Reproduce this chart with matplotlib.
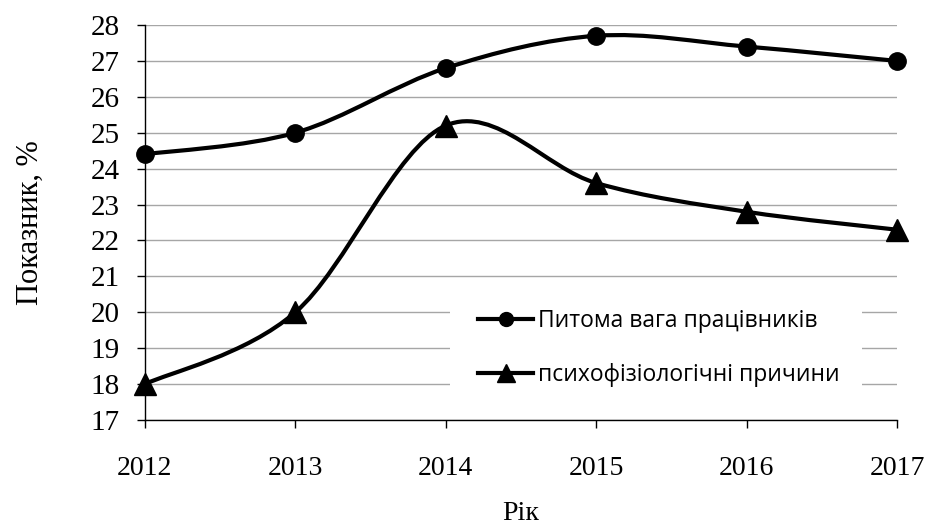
import matplotlib.pyplot as plt
from matplotlib.path import Path
from matplotlib.patches import PathPatch, Rectangle

years = [2012, 2013, 2014, 2015, 2016, 2017]
share_workers = [24.4, 25.0, 26.8, 27.7, 27.4, 27.0]
psycho_reasons = [18.0, 20.0, 25.2, 23.6, 22.8, 22.3]
label_workers = "Питома вага працівників"
label_psycho = "психофізіологічні причини"


def smooth_path(xs, ys):
    # Excel-style smoothed line: cubic bezier through the points
    pts = list(zip(xs, ys))
    verts = [pts[0]]
    codes = [Path.MOVETO]
    n = len(pts)
    for i in range(n - 1):
        p0 = pts[max(i - 1, 0)]
        p1 = pts[i]
        p2 = pts[i + 1]
        p3 = pts[min(i + 2, n - 1)]
        c1 = (p1[0] + (p2[0] - p0[0]) / 6, p1[1] + (p2[1] - p0[1]) / 6)
        c2 = (p2[0] - (p3[0] - p1[0]) / 6, p2[1] - (p3[1] - p1[1]) / 6)
        verts += [c1, c2, p2]
        codes += [Path.CURVE4] * 3
    return Path(verts, codes)


fig = plt.figure(figsize=(9.29, 5.29), dpi=100)
ax = fig.add_axes([0.156, 0.206, 0.8095, 0.7467])

for ys, mk, ms, lab in [(share_workers, 'o', 12.5, label_workers),
                        (psycho_reasons, '^', 16, label_psycho)]:
    ax.add_patch(PathPatch(smooth_path(years, ys), facecolor='none',
                           edgecolor='black', lw=3, zorder=3, clip_on=False))
    ax.plot(years, ys, linestyle='none', marker=mk, markersize=ms,
            color='black', zorder=4, clip_on=False)
    ax.plot([], [], color='black', lw=3, marker=mk, markersize=ms * 0.8, label=lab)

ax.set_xlim(2012, 2017)
ax.set_ylim(17, 28)
ax.set_xticks(years)
ax.set_yticks(range(17, 29))
ax.grid(axis='y', color='#a6a6a6', lw=1)
ax.set_axisbelow(True)
for s in ['top', 'right']:
    ax.spines[s].set_visible(False)
ax.spines['left'].set_linewidth(1)
ax.spines['bottom'].set_linewidth(1)
ax.tick_params(axis='both', direction='out', length=6, width=1)
ax.tick_params(axis='x', pad=20, labelsize=20)
ax.tick_params(axis='y', pad=12, labelsize=21)
for t in ax.get_xticklabels() + ax.get_yticklabels():
    t.set_family('Liberation Serif')

ax.set_xlabel("Рік", family='Liberation Serif', fontsize=20, labelpad=14)
ax.set_ylabel("Показник, %", family='Liberation Serif', fontsize=22, labelpad=33)

# white box behind the legend hides the gridlines
ax.add_patch(Rectangle((0.406, 0.063), 0.547, 0.248, transform=ax.transAxes,
                       facecolor='white', edgecolor='none', zorder=1))
leg = ax.legend(loc='center left', bbox_to_anchor=(0.443, 0.182),
                prop={'family': 'Open Sans', 'size': 16.5},
                frameon=False, handlelength=2.4,
                handletextpad=0.2, labelspacing=1.3, borderpad=0, borderaxespad=0)

fig.savefig("out.png", dpi=100)
